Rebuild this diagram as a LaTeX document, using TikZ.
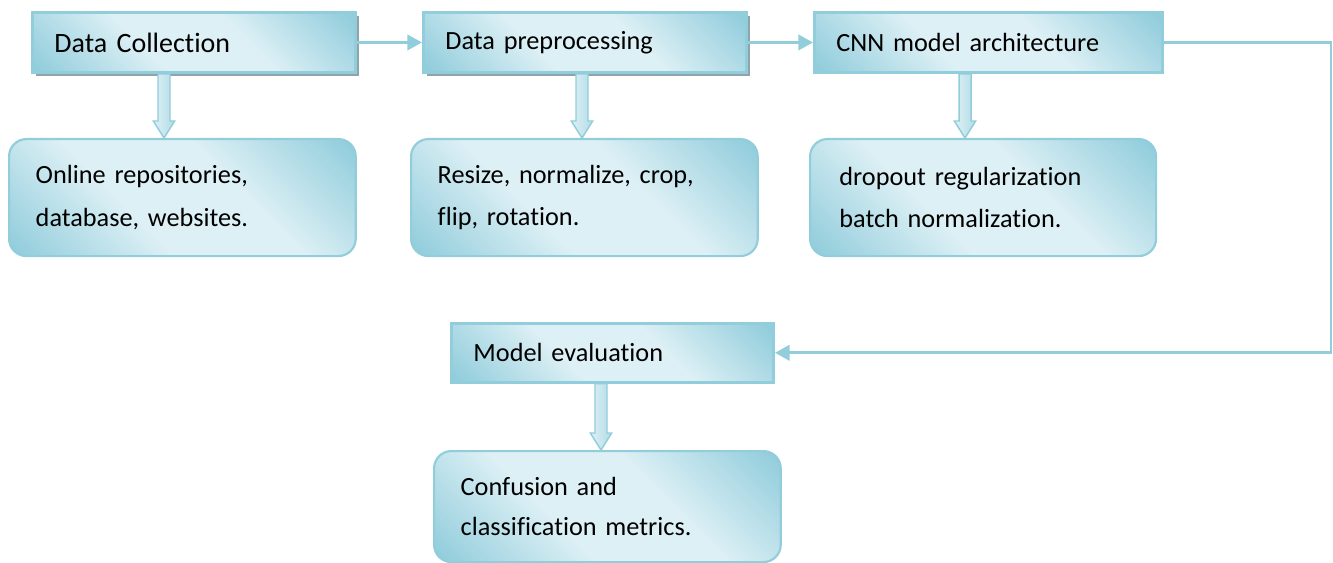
\documentclass[tikz,border=0pt]{standalone}
\usepackage{fontspec}
\setmainfont{Carlito}[Ligatures=NoCommon]
\usetikzlibrary{arrows.meta,shadows,calc}

\definecolor{aqua}{HTML}{92CDDC}
\definecolor{aqualight}{HTML}{DDF0F5}
\definecolor{shadowgray}{HTML}{8FA3AB}
\pgfdeclareverticalshading{aquaband}{100bp}{color(0bp)=(aqua); color(16bp)=(aqua);
	color(40bp)=(aqualight); color(60bp)=(aqualight); color(84bp)=(aqua); color(100bp)=(aqua)}

\begin{document}
\begin{tikzpicture}[x=0.75pt, y=-0.75pt,
	font=\fontsize{19.7}{32}\selectfont,
	flow/.style={draw=aqua, line width=2.2pt, -{Triangle[length=11pt,width=11.5pt]}},
	stagebox/.style={draw=aqua, line width=2.2pt, anchor=north west, align=left,
		inner xsep=16.5pt, minimum height=45pt, shading=aquaband, shading angle=-45},
	shadowed/.style={drop shadow={shadow xshift=2.6pt, shadow yshift=-2.6pt, fill=shadowgray, opacity=1}},
	detailbox/.style={stagebox, rounded corners=13pt, line width=1.6pt, inner xsep=20pt,
		minimum height=87.75pt, text width=220pt},
	hollow/.style={draw=aqua, line width=1.1pt, left color=aqualight, right color=aqua!70!white,
		to path={let \p1=(\tikztostart), \p2=(\tikztotarget) in
			(\x1-4.5pt,\y1) -- (\x1-4.5pt,\y2+12.75pt) -- (\x1-8pt,\y2+12.75pt) -- (\x2,\y2)
			-- (\x1+8pt,\y2+12.75pt) -- (\x1+4.5pt,\y2+12.75pt) -- (\x1+4.5pt,\y1) -- cycle}}]
	\useasboundingbox (0,0) rectangle (1333,563);

	\node[stagebox, shadowed, text width=209.25pt, font=\fontsize{21}{32}\selectfont] (DC) at (31,11) {Data Collection};
	\node[stagebox, shadowed, text width=209.25pt] (DP) at (422,11) {Data preprocessing};
	\node[stagebox, text width=228pt] (CNN) at (813,11) {CNN model architecture};
	\node[stagebox, text width=208.5pt, minimum height=44pt] (ME) at (450,322) {Model evaluation};

	\node[detailbox] (SRC) at (8,138) {Online repositories,\\database, websites.};
	\node[detailbox] (OPS) at (410,138) {Resize, normalize, crop,\\flip, rotation.};
	\node[detailbox, inner xsep=22pt, text width=215.5pt] (REG) at (809,138) {dropout regularization\\batch normalization.};
	\node[detailbox, minimum height=83.25pt, font=\fontsize{19.7}{30}\selectfont] (MET) at (433,450) {Confusion and\\classification metrics.};

	\coordinate (E) at (1331,0);
	\draw[flow] (DC.east) -- (DP.west);
	\draw[flow] (DP.east) -- (CNN.west);
	\draw[flow] (CNN.east) -- (CNN.east -| E) |- (ME.east);

	\coordinate (a1) at (164,0);
	\coordinate (a2) at (582,0);
	\coordinate (a3) at (965,0);
	\coordinate (a4) at (601,0);
	\draw[hollow] (a1 |- DC.south) to (a1 |- SRC.north);
	\draw[hollow] (a2 |- DP.south) to (a2 |- OPS.north);
	\draw[hollow] (a3 |- CNN.south) to (a3 |- REG.north);
	\draw[hollow] (a4 |- ME.south) to (a4 |- MET.north);
\end{tikzpicture}
\end{document}
